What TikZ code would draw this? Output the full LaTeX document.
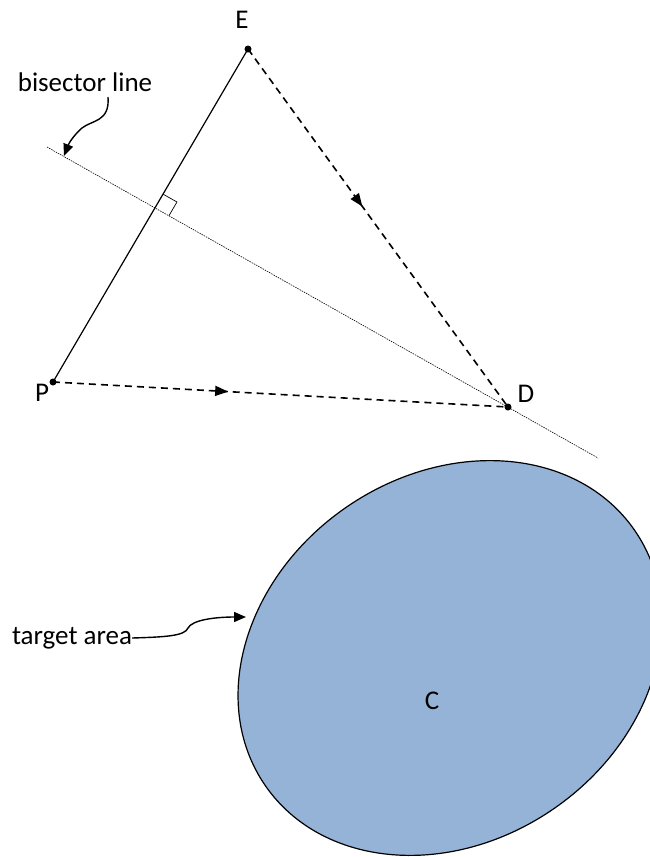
\documentclass[tikz,border=0pt]{standalone}
\usepackage{fontspec}
\setmainfont{Carlito}
\usetikzlibrary{arrows.meta,calc,decorations.markings,shapes.geometric}
\definecolor{areafill}{HTML}{95B3D7}
\tikzset{
  lbl/.style={font=\fontsize{27}{30}\selectfont, inner sep=0pt},
  pt/.style={circle, fill=black, inner sep=0pt, minimum size=7pt},
  dasharrow/.style={line width=1.6pt, dash pattern=on 7pt off 5pt,
    postaction={decorate}},
  callout/.style={line width=1.4pt, -{Triangle[length=12pt,width=10pt]}},
  bisect/.style={line width=0.6pt, dash pattern=on 1.5pt off 1pt},
}
\begin{document}
\begin{tikzpicture}[x=1pt,y=-1pt]
\useasboundingbox (0,0) rectangle (649,857);
% ellipse (target area)
\node[ellipse, draw, line width=1.2pt, fill=areafill, inner sep=0pt,
      minimum width=449pt, minimum height=366pt, rotate=34.7] (target) at (450,658) {};
\node[lbl] (C) at (432,701) {C};
% points
\node[pt] (E) at (248,49) {};
\node[pt] (P) at (53,382) {};
\node[pt] (D) at (508,407) {};
\node[lbl] (Elbl) at (242,20) {E};
\node[lbl] (Plbl) at (42,393) {P};
\node[lbl] (Dlbl) at (526,394) {D};
% bisector line
\coordinate (b1) at (47,147);
\coordinate (b2) at (598,458);
\draw[bisect] (b1) -- (b2);
% segment PE
\draw[line width=1.2pt] (P.center) -- (E.center);
% right angle mark
\coordinate (I) at (intersection of P--E and b1--b2);
\coordinate (r1) at ($(I)!16pt!(E)$);
\coordinate (r2) at ($(I)!16pt!(b2)$);
\draw[line width=0.7pt] (r1) -- ($(r1)+(r2)-(I)$) -- (r2);
% dashed arrows
\draw[dasharrow, decoration={markings, mark=at position 0.44 with
   {\arrow[solid]{Triangle[length=13pt,width=10pt]}}}] (E.center) -- (D.center);
\draw[dasharrow, decoration={markings, mark=at position 0.385 with
   {\arrow[solid]{Triangle[length=13pt,width=10pt]}}}] (P.center) -- (D.center);
% labels with callouts
\node[lbl] (bis) at (85,82) {bisector line};
\coordinate (bisend) at (64,156);
\draw[callout] (108,97) .. controls (110,122) and (92,120) .. (82,128)
   .. controls (74,135) and (69,143) .. (bisend);
\node[lbl] (tgt) at (72,638) {target area};
\coordinate (tgtend) at (246,617);
\draw[callout] (tgt.east) .. controls (165,637) and (185,636) .. (188,628)
   .. controls (192,620) and (215,617) .. (tgtend);
\end{tikzpicture}
\end{document}
